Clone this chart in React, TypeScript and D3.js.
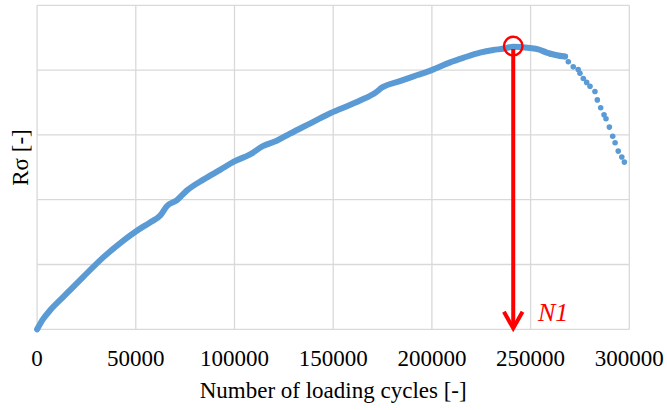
import React from "react";
import * as d3 from "d3";

// Number of loading cycles (x) and R-sigma in grid units (y)
const cycles: number[] = [
  0, 3100, 6500, 13300, 23400, 33500, 43700, 50000, 57200, 62500, 65700, 70700,
  75800, 84200, 92700, 99900, 107900, 114600, 121400, 128100, 136600, 147500,
  155100, 163600, 171800, 174700, 183800, 192300, 199900, 209200, 215900, 224400,
  231100, 236200, 241200, 249600, 253900, 258200, 263200, 267500,
];
const rsigma: number[] = [
  0, 0.16, 0.29, 0.5, 0.81, 1.11, 1.37, 1.51, 1.65, 1.76, 1.9, 1.99,
  2.14, 2.31, 2.46, 2.59, 2.7, 2.83, 2.91, 3.02, 3.15, 3.32,
  3.42, 3.53, 3.66, 3.73, 3.83, 3.92, 4.0, 4.12, 4.19, 4.27,
  4.31, 4.33, 4.36, 4.34, 4.32, 4.27, 4.23, 4.21,
];
// sparse tail of individual measurements
const tailCycles: number[] = [
  260000, 263200, 265500, 267500, 269100, 271600, 274100, 275000, 276700, 278400, 280100,
  282600, 283800, 285500, 287200, 288200, 289900, 291600, 292800, 294400,
  296200, 297500,
];
const tailRsigma: number[] = [
  4.25, 4.23, 4.22, 4.21, 4.13, 4.05, 4.01, 3.95, 3.87, 3.81, 3.75,
  3.67, 3.54, 3.42, 3.31, 3.25, 3.12, 2.98, 2.88, 2.75,
  2.66, 2.58,
];
const xTicks: number[] = [0, 50000, 100000, 150000, 200000, 250000, 300000];
const yGrid: number[] = [0, 1, 2, 3, 4, 5];
const N1 = 241200;
const N1peak = 4.37;

export default function App() {
  const W = 667, H = 410;
  const x = d3.scaleLinear().domain([0, 300000]).range([37.1, 629.3]);
  const y = d3.scaleLinear().domain([0, 5]).range([329.3, 5.3]);
  const pts: [number, number][] = cycles.map((c, i) => [c, rsigma[i]]);
  const line = d3
    .line<[number, number]>()
    .x((d) => x(d[0]))
    .y((d) => y(d[1]))
    .curve(d3.curveMonotoneX);
  const tail: [number, number][] = tailCycles.map((c, i) => [c, tailRsigma[i]]);
  const blue = "#5B9BD5";
  const red = "#FF0000";
  const grid = "#D9D9D9";
  const font = "'Liberation Serif', 'Times New Roman', serif";
  const ax = x(N1);
  const tipY = y(0) - 1;
  return (
    <svg
      width={W}
      height={H}
      style={{ position: "absolute", left: 0, top: 0, background: "#fff" }}
    >
      {yGrid.map((v) => (
        <line key={"h" + v} x1={x(0)} x2={x(300000)} y1={y(v)} y2={y(v)} stroke={grid} strokeWidth={1.3} />
      ))}
      {xTicks.map((v) => (
        <line key={"v" + v} x1={x(v)} x2={x(v)} y1={y(0)} y2={y(5)} stroke={grid} strokeWidth={1.3} />
      ))}
      <path d={line(pts) || ""} fill="none" stroke={blue} strokeWidth={6} strokeLinejoin="round" strokeLinecap="round" />
      {tail.map((d, i) => (
        <circle key={"t" + i} cx={x(d[0])} cy={y(d[1])} r={2.8} fill={blue} />
      ))}
      {xTicks.map((v) => (
        <text key={"l" + v} x={x(v)} y={366} textAnchor="middle" fontFamily={font} fontSize={23} fill="#000">
          {v}
        </text>
      ))}
      <text x={(x(0) + x(300000)) / 2} y={398} textAnchor="middle" fontFamily={font} fontSize={23} fill="#000">
        Number of loading cycles [-]
      </text>
      <text
        transform={`translate(27.5,157.5) rotate(-90)`}
        textAnchor="middle"
        fontFamily={font}
        fontSize={23}
        fill="#000"
      >
        Rσ [-]
      </text>
      {/* N1 marker */}
      <circle cx={ax} cy={y(N1peak)} r={9.3} fill="none" stroke={red} strokeWidth={2.4} />
      <line x1={ax} x2={ax} y1={y(N1peak) + 3} y2={tipY - 1} stroke={red} strokeWidth={4} />
      <polyline
        points={`${ax - 9.3},${tipY - 16.5} ${ax},${tipY} ${ax + 9.3},${tipY - 16.5}`}
        fill="none"
        stroke={red}
        strokeWidth={4}
        strokeLinejoin="miter"
      />
      <text x={538} y={321} fontFamily={font} fontStyle="italic" fontSize={26} fill={red}>
        N1
      </text>
    </svg>
  );
}
